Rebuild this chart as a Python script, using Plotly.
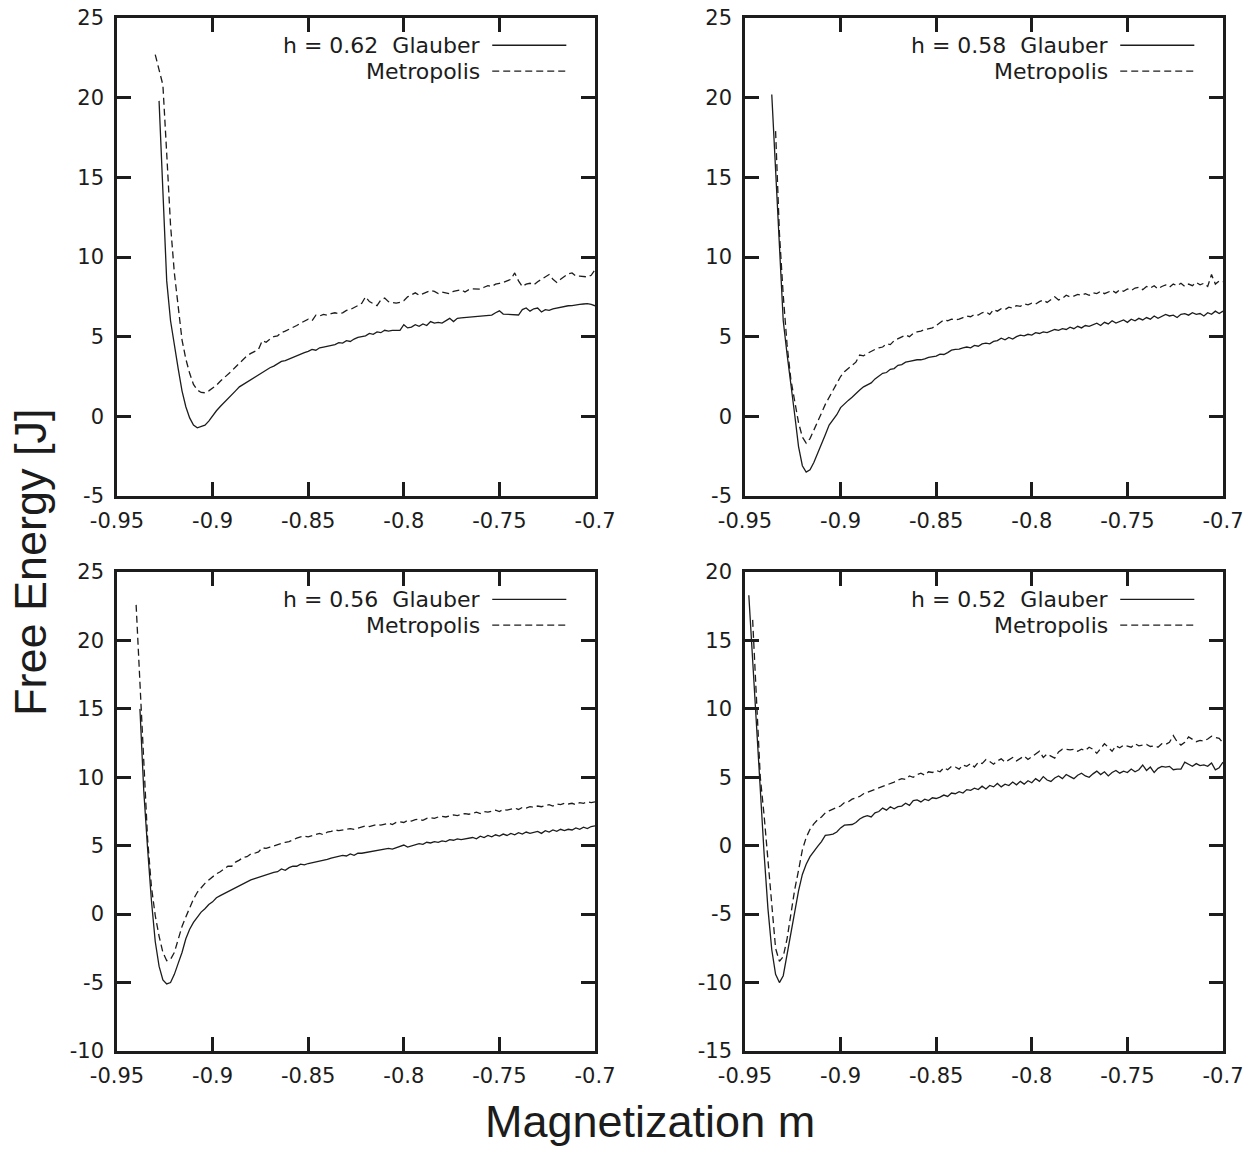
import plotly.graph_objects as go

# Magnetization grid spacing of the sampled free-energy curves
M_STEP = 0.002

# ---- h = 0.62 ----
glauber_062_start = -0.928
glauber_062 = [
    19.8, 14.3, 8.5, 6.0, 4.4, 3.0, 1.6, 0.6, -0.1, -0.55,
    -0.72, -0.65, -0.55, -0.30, 0.05, 0.35, 0.62, 0.85, 1.1, 1.35,
    1.6, 1.85, 2.0, 2.2, 2.35, 2.5, 2.65, 2.75, 2.95, 3.05,
    3.15, 3.3, 3.45, 3.5, 3.6, 3.72, 3.82, 3.95, 4.0, 4.08,
    4.2, 4.15, 4.3, 4.35, 4.4, 4.45, 4.5, 4.62, 4.6, 4.75,
    4.7, 4.85, 4.95, 5.0, 5.05, 5.2, 5.15, 5.3, 5.25, 5.4,
    5.35, 5.4, 5.38, 5.4, 5.75, 5.55, 5.6, 5.75, 5.65, 5.8,
    5.7, 5.95, 5.85, 5.9, 5.85, 6.0, 6.15, 5.95, 6.15, 6.18,
    6.2, 6.22, 6.25, 6.28, 6.3, 6.32, 6.32, 6.35, 6.5, 6.62,
    6.42, 6.4, 6.38, 6.36, 6.36, 6.7, 6.8, 6.6, 6.75, 6.8,
    6.55, 6.7, 6.65, 6.75, 6.8, 6.88, 6.92, 6.94, 6.95, 7.0,
    7.02, 7.05, 7.07, 7.02, 6.94,
]
metropolis_062_start = -0.930
metropolis_062 = [
    22.7, 21.7, 20.8, 16.5, 12.0, 9.0, 6.8, 4.8, 3.6, 2.7,
    2.0, 1.65, 1.5, 1.48, 1.6, 1.75, 1.95, 2.2, 2.4, 2.6,
    2.85, 3.1, 3.35, 3.55, 3.8, 3.95, 4.1, 4.2, 4.75, 4.65,
    4.85, 5.0, 5.05, 5.25, 5.35, 5.45, 5.6, 5.7, 5.85, 5.95,
    6.1, 6.0, 6.35, 6.3, 6.4, 6.35, 6.45, 6.5, 6.45, 6.5,
    6.65, 6.7, 6.8, 6.95, 7.1, 7.5, 7.2, 7.1, 6.95, 7.3,
    7.42, 7.2, 7.15, 7.1, 7.15, 7.25, 7.5, 7.6, 7.75, 7.6,
    7.7, 7.8, 7.9, 7.84, 7.7, 7.8, 7.75, 7.7, 7.85, 7.9,
    7.95, 7.8, 7.95, 8.0, 8.0, 7.98, 8.1, 8.2, 8.15, 8.3,
    8.35, 8.4, 8.5, 8.6, 9.0, 8.5, 8.15, 8.3, 8.35, 8.25,
    8.45, 8.6, 8.75, 8.9, 8.6, 8.4, 8.6, 8.8, 8.95, 9.0,
    8.8, 8.8, 8.78, 8.75, 8.85, 9.2,
]

# ---- h = 0.58 ----
glauber_058_start = -0.936
glauber_058 = [
    20.2, 15.3, 10.3, 6.0, 3.9, 2.1, 0.1, -1.9, -3.1, -3.5,
    -3.35, -2.9, -2.35, -1.75, -1.15, -0.55, -0.2, 0.1, 0.55, 0.8,
    1.0, 1.2, 1.45, 1.65, 1.85, 1.95, 2.1, 2.35, 2.5, 2.7,
    2.75, 2.95, 3.0, 3.2, 3.25, 3.4, 3.45, 3.5, 3.55, 3.55,
    3.6, 3.7, 3.72, 3.78, 3.9, 3.88, 4.0, 4.15, 4.2, 4.22,
    4.3, 4.35, 4.3, 4.45, 4.4, 4.55, 4.6, 4.55, 4.7, 4.75,
    4.9, 4.8, 4.95, 4.85, 5.0, 5.1, 5.05, 5.15, 5.1, 5.25,
    5.2, 5.3, 5.25, 5.35, 5.45, 5.4, 5.5, 5.45, 5.6, 5.5,
    5.65, 5.55, 5.7, 5.65, 5.75, 5.85, 5.7, 5.9, 5.8, 6.0,
    5.85, 5.95, 6.05, 5.9, 6.1, 6.0, 6.15, 6.05, 6.2, 6.1,
    6.3, 6.15, 6.25, 6.4, 6.3, 6.35, 6.2, 6.4, 6.45, 6.35,
    6.5, 6.4, 6.45, 6.3, 6.5, 6.4, 6.6, 6.45, 6.6,
]
metropolis_058_start = -0.934
metropolis_058 = [
    17.9, 11.5, 7.6, 4.5, 2.3, 0.9, -0.4, -1.3, -1.68, -1.4,
    -0.9, -0.3, 0.2, 0.75, 1.2, 1.7, 2.1, 2.5, 2.8, 3.0,
    3.15, 3.4, 3.85, 3.8, 3.95, 4.1, 4.2, 4.3, 4.35, 4.55,
    4.5, 4.75, 4.85, 4.95, 5.1, 5.0, 5.2, 5.3, 5.35, 5.45,
    5.5, 5.55, 5.7, 5.85, 6.05, 6.0, 6.1, 6.05, 6.1, 6.2,
    6.3, 6.25, 6.4, 6.35, 6.5, 6.55, 6.4, 6.7, 6.6, 6.75,
    6.7, 6.85, 6.8, 6.95, 6.9, 7.05, 7.0, 7.1, 7.05, 7.2,
    7.3, 7.15, 7.35, 7.5, 7.3, 7.4, 7.6, 7.5, 7.55, 7.65,
    7.6, 7.7, 7.6, 7.75, 7.7, 7.85, 7.7, 7.8, 7.9, 7.75,
    7.95, 7.85, 8.0, 7.9, 8.05, 8.1, 7.95, 8.15, 8.05, 8.2,
    8.0, 8.15, 8.25, 8.1, 8.3, 8.2, 8.35, 8.15, 8.3, 8.2,
    8.4, 8.25, 8.35, 8.15, 8.9, 8.3, 8.5, 8.45,
]

# ---- h = 0.56 ----
glauber_056_start = -0.938
glauber_056 = [
    15.0, 9.0, 4.8, 1.0, -2.0, -3.8, -4.8, -5.1, -5.0, -4.4,
    -3.6, -2.8, -1.8, -1.1, -0.6, -0.2, 0.15, 0.4, 0.7, 0.9,
    1.2, 1.35, 1.5, 1.6, 1.8, 1.95, 2.05, 2.25, 2.35, 2.5,
    2.6, 2.7, 2.8, 2.9, 2.95, 3.05, 3.1, 3.3, 3.2, 3.4,
    3.5, 3.5, 3.65, 3.6, 3.7, 3.75, 3.8, 3.9, 3.95, 4.0,
    4.1, 4.15, 4.2, 4.3, 4.25, 4.4, 4.3, 4.45, 4.45, 4.5,
    4.55, 4.6, 4.65, 4.7, 4.75, 4.8, 4.75, 4.85, 4.9, 5.05,
    4.9, 5.0, 5.1, 5.15, 5.1, 5.25, 5.2, 5.3, 5.25, 5.35,
    5.3, 5.45, 5.4, 5.5, 5.45, 5.5, 5.55, 5.6, 5.5, 5.7,
    5.6, 5.75, 5.65, 5.8, 5.7, 5.85, 5.75, 5.9, 5.8, 5.95,
    5.85, 6.0, 5.9, 5.95, 6.05, 5.9, 6.1, 6.0, 6.15, 6.05,
    6.2, 6.1, 6.2, 6.15, 6.3, 6.2, 6.35, 6.25, 6.4, 6.45,
]
metropolis_056_start = -0.940
metropolis_056 = [
    22.6, 17.0, 11.5, 5.5, 2.0, -0.1, -1.6, -2.8, -3.4, -3.3,
    -2.8, -1.9, -0.9, -0.2, 0.5, 1.1, 1.6, 1.95, 2.25, 2.5,
    2.75, 2.95, 3.1, 3.3, 3.5, 3.5, 3.8, 3.95, 4.15, 4.2,
    4.4, 4.45, 4.55, 4.85, 4.8, 4.9, 5.0, 5.1, 5.2, 5.25,
    5.3, 5.45, 5.55, 5.65, 5.7, 5.65, 5.75, 5.8, 5.9, 5.8,
    6.0, 6.05, 6.15, 6.1, 6.15, 6.2, 6.25, 6.2, 6.3, 6.35,
    6.45, 6.4, 6.5, 6.55, 6.5, 6.6, 6.65, 6.55, 6.7, 6.75,
    6.7, 6.85, 6.8, 6.9, 6.95, 6.85, 7.0, 7.05, 7.0, 7.1,
    7.15, 7.1, 7.2, 7.25, 7.2, 7.3, 7.35, 7.3, 7.4, 7.45,
    7.35, 7.5, 7.45, 7.55, 7.6, 7.5, 7.65, 7.6, 7.7, 7.75,
    7.65, 7.8, 7.75, 7.85, 7.8, 7.9, 7.85, 7.95, 8.0, 7.9,
    8.05, 8.0, 8.1, 8.05, 8.1, 8.0, 8.15, 8.1, 8.2, 8.15,
    8.2,
]

# ---- h = 0.52 ----
glauber_052_start = -0.948
glauber_052 = [
    18.3, 13.5, 8.8, 4.2, -0.6, -4.6, -7.6, -9.4, -10.0, -9.5,
    -8.0, -6.5, -5.0, -3.3, -2.1, -1.35, -0.8, -0.4, -0.05, 0.3,
    0.75, 0.8, 0.85, 1.0, 1.3, 1.5, 1.55, 1.55, 1.7, 1.95,
    2.1, 2.2, 2.1, 2.4, 2.5, 2.75, 2.6, 2.85, 2.7, 2.85,
    2.9, 3.1, 2.95, 3.3, 3.35, 3.2, 3.4, 3.3, 3.5, 3.45,
    3.55, 3.7, 3.6, 3.85, 3.8, 3.95, 3.85, 4.1, 4.05, 4.2,
    4.1, 4.35, 4.15, 4.4, 4.3, 4.55, 4.3, 4.5, 4.4, 4.65,
    4.45, 4.7, 4.5, 4.75, 4.6, 4.9, 4.7, 5.05, 4.8, 4.7,
    4.95, 5.1, 4.9, 5.2, 5.05, 4.9, 5.15, 5.3, 5.1, 5.0,
    5.25, 5.45, 5.2, 5.4, 5.1, 5.35, 5.5, 5.3, 5.45, 5.35,
    5.6, 5.4, 5.55, 5.9, 5.5, 5.75, 5.35, 5.65, 5.8, 5.75,
    5.8, 5.55, 5.6, 5.6, 6.1, 5.95, 5.8, 6.0, 5.85, 5.9,
    5.8, 6.05, 5.55, 5.7, 6.1,
]
metropolis_052_start = -0.946
metropolis_052 = [
    16.5, 10.5, 5.0, 2.2, -1.0, -4.5, -7.5, -8.45, -8.1, -6.8,
    -5.0, -3.2, -1.8, -0.3, 0.6, 1.2, 1.6, 1.9, 2.1, 2.4,
    2.55, 2.7, 2.8, 2.9, 3.15, 3.2, 3.4, 3.5, 3.6, 3.8,
    3.9, 4.0, 4.15, 4.25, 4.35, 4.4, 4.5, 4.65, 4.8, 4.9,
    4.85, 5.1, 5.0, 5.2, 5.3, 5.15, 5.4, 5.35, 5.5, 5.4,
    5.7, 5.55, 5.8, 5.75, 5.6, 5.9, 5.8, 6.0, 5.75, 6.1,
    6.0, 6.3, 6.15, 5.95, 6.2, 6.35, 6.1, 6.3, 6.45, 6.2,
    6.4, 6.55, 6.3, 6.5, 6.75, 6.9, 6.45, 6.7, 6.55, 6.4,
    6.85, 7.05, 7.05, 7.0, 7.05, 6.9, 7.05, 6.95, 7.2, 7.05,
    6.75, 7.1, 7.45, 7.2, 6.9, 7.3, 7.15, 7.35, 7.25, 7.2,
    7.45, 7.3, 7.35, 7.4, 7.25, 7.3, 7.2, 7.45, 7.4, 7.55,
    8.05, 7.6, 7.35, 7.55, 7.95, 7.8, 7.6, 7.7, 7.65, 7.8,
    8.0, 7.9, 7.85, 7.5,
]

# Panel definitions: field label, curves, y range
panels = [
    ("0.62", (glauber_062_start, glauber_062), (metropolis_062_start, metropolis_062), [-5, 25]),
    ("0.58", (glauber_058_start, glauber_058), (metropolis_058_start, metropolis_058), [-5, 25]),
    ("0.56", (glauber_056_start, glauber_056), (metropolis_056_start, metropolis_056), [-10, 25]),
    ("0.52", (glauber_052_start, glauber_052), (metropolis_052_start, metropolis_052), [-15, 20]),
]

x_tick_vals = [-0.95, -0.9, -0.85, -0.8, -0.75, -0.7]
x_tick_text = ["-0.95", "-0.9", "-0.85", "-0.8", "-0.75", "-0.7"]
x_range = [-0.95, -0.7]

W, H = 1258, 1158
INK = "#1c1c1c"
TICK_FONT = dict(family="DejaVu Sans, sans-serif", size=21, color=INK)
LEGEND_FONT = dict(family="DejaVu Sans, sans-serif", size=22, color=INK)
LABEL_FONT = dict(family="Liberation Sans, Arial, sans-serif", size=45, color=INK)

# plot-area boxes in pixels: (left, right, top, bottom)
boxes = [
    (117, 595, 18, 496),
    (745, 1223, 18, 496),
    (117, 595, 572, 1051),
    (745, 1223, 572, 1051),
]


def m_grid(start, n):
    return [round(start + i * M_STEP, 4) for i in range(n)]


fig = go.Figure()
layout = dict(
    width=W, height=H,
    margin=dict(l=0, r=0, t=0, b=0, pad=0, autoexpand=False),
    paper_bgcolor="white", plot_bgcolor="white",
    showlegend=False,
    annotations=[], shapes=[],
)

for i, (hval, (gs, gv), (ms, mv), yr) in enumerate(panels):
    k = "" if i == 0 else str(i + 1)
    xa, ya = "x" + k, "y" + k
    fig.add_trace(go.Scatter(x=m_grid(gs, len(gv)), y=gv, mode="lines",
                             xaxis=xa, yaxis=ya,
                             line=dict(color=INK, width=1.3)))
    fig.add_trace(go.Scatter(x=m_grid(ms, len(mv)), y=mv, mode="lines",
                             xaxis=xa, yaxis=ya,
                             line=dict(color=INK, width=1.3, dash="7px,4px")))
    l, r, t, b = boxes[i]
    yticks = list(range(yr[0], yr[1] + 1, 5))
    common = dict(showline=True, linewidth=2.5, linecolor=INK, mirror="ticks",
                  ticks="inside", ticklen=14, tickwidth=2.5, tickcolor=INK,
                  showgrid=False, zeroline=False, tickfont=TICK_FONT,
                  automargin=False)
    layout["xaxis" + k] = dict(domain=[l / W, r / W], anchor=ya, range=x_range,
                               tickmode="array", tickvals=x_tick_vals,
                               ticktext=x_tick_text, ticklabelstandoff=4,
                               **common)
    layout["yaxis" + k] = dict(domain=[1 - b / H, 1 - t / H], anchor=xa, range=yr,
                               tickmode="array", tickvals=yticks,
                               ticktext=[str(v) for v in yticks],
                               ticklabelstandoff=6, **common)
    # key in the upper-right corner of each panel
    rows = [("h = " + hval + "\u00a0 Glauber", 0.943, "solid"),
            ("Metropolis", 0.889, "7px,4px")]
    for text, yy, dash in rows:
        layout["annotations"].append(dict(
            text=text, xref=xa + " domain", yref=ya + " domain",
            x=0.763, y=yy, xanchor="right", yanchor="middle",
            showarrow=False, font=LEGEND_FONT))
        layout["shapes"].append(dict(
            type="line", xref=xa + " domain", yref=ya + " domain",
            x0=0.785, x1=0.94, y0=yy, y1=yy,
            line=dict(color=INK, width=1.3, dash=dash)))

layout["annotations"].append(dict(
    text="Magnetization m", xref="paper", yref="paper",
    x=650 / W, y=1 - 1121 / H, xanchor="center", yanchor="middle",
    showarrow=False, font=LABEL_FONT))
layout["annotations"].append(dict(
    text="Free Energy [J]", xref="paper", yref="paper",
    x=30 / W, y=1 - 562 / H, xanchor="center", yanchor="middle",
    textangle=-90, showarrow=False, font=LABEL_FONT))

fig.update_layout(**layout)
fig.write_html("out.html")
